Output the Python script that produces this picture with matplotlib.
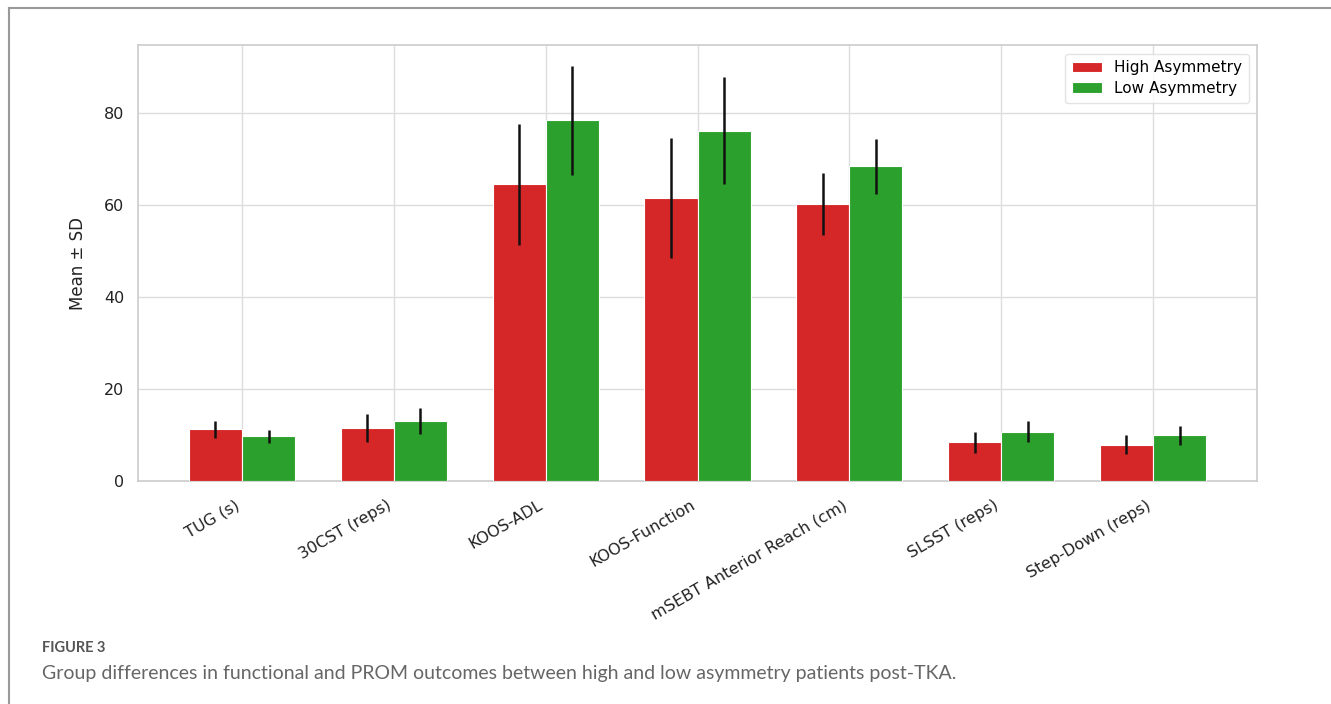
import matplotlib.pyplot as plt
from matplotlib.lines import Line2D
import numpy as np

medidas = ['TUG (s)', '30CST (reps)', 'KOOS-ADL', 'KOOS-Function',
           'mSEBT Anterior Reach (cm)', 'SLSST (reps)', 'Step-Down (reps)']
media_alta = [11.2, 11.5, 64.5, 61.5, 60.2, 8.4, 7.9]
sd_alta = [1.8, 3.0, 13.2, 13.0, 6.8, 2.3, 2.0]
media_baja = [9.7, 13.0, 78.4, 76.2, 68.4, 10.7, 9.9]
sd_baja = [1.45, 2.85, 11.9, 11.7, 6.0, 2.3, 2.1]

plt.rcParams['font.family'] = ['DejaVu Sans']

fig = plt.figure(figsize=(13.31, 7.04), dpi=100)
ax = fig.add_axes([138 / 1331, 1 - 481 / 704, (1257 - 138) / 1331, (481 - 45) / 704])

x = np.arange(len(medidas))
ancho = 0.35
ax.bar(x - ancho / 2, media_alta, ancho, yerr=sd_alta, color='#d62728',
       edgecolor='white', linewidth=0.8, label='High Asymmetry',
       error_kw=dict(ecolor='#111111', elinewidth=1.8, capsize=0), zorder=3)
ax.bar(x + ancho / 2, media_baja, ancho, yerr=sd_baja, color='#2ca02c',
       edgecolor='white', linewidth=0.8, label='Low Asymmetry',
       error_kw=dict(ecolor='#111111', elinewidth=1.8, capsize=0), zorder=3)

ax.set_xticks(x)
ax.set_xticklabels(medidas, rotation=30, ha='right', fontsize=11.5, color='#222222')
ax.set_ylim(0, 94.8)
ax.set_yticks([0, 20, 40, 60, 80])
ax.tick_params(axis='y', labelsize=11.5, colors='#222222', length=0, pad=10)
ax.tick_params(axis='x', length=0, pad=12)
ax.set_ylabel('Mean ± SD', fontsize=12, color='#222222', labelpad=12)
ax.grid(True, color='#dddddd', linewidth=1.0, zorder=0)
ax.set_axisbelow(True)
for s in ax.spines.values():
    s.set_color('#cccccc')
    s.set_linewidth(1.2)

ax.legend(loc='upper right', fontsize=11, frameon=True, edgecolor='#dddddd',
          handlelength=2.0, borderpad=0.45, labelspacing=0.35,
          bbox_to_anchor=(1.0, 0.998))

# Marco de la figura (izquierda y arriba)
fig.add_artist(Line2D([9 / 1331, 9 / 1331], [0, 1 - 8 / 704], transform=fig.transFigure,
                      color='#999999', linewidth=1.5))
fig.add_artist(Line2D([9 / 1331, 1330 / 1331], [1 - 8 / 704, 1 - 8 / 704], transform=fig.transFigure,
                      color='#999999', linewidth=1.5))

fig.text(42 / 1331, 1 - 648 / 704, 'FIGURE 3', fontsize=10.5, color='#555555',
         family='Lato', weight='bold', va='center')
fig.text(42 / 1331, 1 - 673 / 704,
         'Group differences in functional and PROM outcomes between high and low asymmetry patients post-TKA.',
         fontsize=14, color='#666666', family='Lato', va='center')

fig.savefig('out.png', dpi=100)
